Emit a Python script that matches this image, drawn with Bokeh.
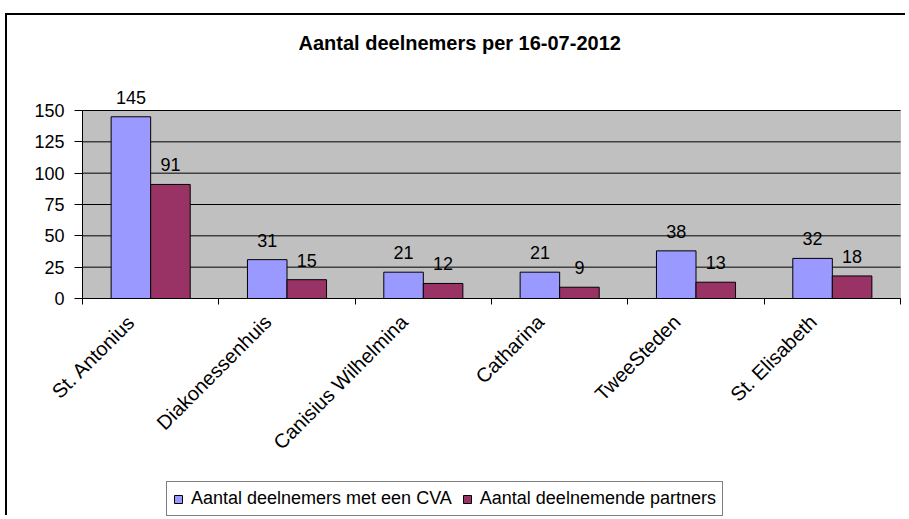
import math
from bokeh.plotting import figure
from bokeh.models import (ColumnDataSource, FixedTicker, LabelSet, Legend,
                          LegendItem, Range1d, Title, BoxAnnotation)
from bokeh.core.properties import value
from bokeh.embed import file_html
from bokeh.resources import INLINE

# ---- data ----
title_text = "Aantal deelnemers per 16-07-2012"
categories = ["St. Antonius", "Diakonessenhuis", "Canisius Wilhelmina",
              "Catharina", "TweeSteden", "St. Elisabeth"]
series_names = ["Aantal deelnemers met een CVA", "Aantal deelnemende partners"]
cva = [145, 31, 21, 21, 38, 32]
partners = [91, 15, 12, 9, 13, 18]
y_ticks = [0, 25, 50, 75, 100, 125, 150]

# ---- layout / style ----
FONT = "Liberation Sans"
BLUE = "#9999FF"
RED = "#993366"
GREY = "#C0C0C0"
n = len(categories)
bw = 0.29
label_shift = 0.140625

W, H = 900, 502
PAD_L, PAD_R, BORDER_T = 75, 7, 67   # room left/right of the grey area, room for title
AXIS_PX = 216          # pixels from frame top to the zero line
PLOT_PX = 188          # pixels covered by the value axis (0 .. top tick)
px_per_unit = PLOT_PX / (y_ticks[-1] - y_ticks[0])
y_max = y_ticks[-1] + (AXIS_PX - PLOT_PX) / px_per_unit
y_min = y_ticks[0] - (H - BORDER_T - AXIS_PX) / px_per_unit
px_per_cat = (W - PAD_L - PAD_R) / n
x_min = -PAD_L / px_per_cat
x_max = n + PAD_R / px_per_cat

centers = [i + 0.5 for i in range(n)]
src = ColumnDataSource(dict(
    x1=[c - bw / 2 for c in centers],
    x2=[c + bw / 2 for c in centers],
    cva=cva, partners=partners,
    cva_lbl=[str(v) for v in cva],
    partners_lbl=[str(v) for v in partners],
))
grid_src = ColumnDataSource(dict(
    x0=[0] * len(y_ticks), x1=[n] * len(y_ticks), y=y_ticks))

p = figure(width=W, height=H,
           x_range=Range1d(x_min, x_max), y_range=Range1d(y_min, y_max),
           output_backend="svg", toolbar_location=None,
           min_border_left=0, min_border_right=0,
           min_border_top=BORDER_T, min_border_bottom=0,
           background_fill_color="white",
           border_fill_color="white",
           outline_line_color=None,
           styles={"margin-top": "13px", "margin-left": "5px",
                   "border-top": "2px solid #000",
                   "border-left": "2px solid #000"})
p.title.text = ""
p.grid.visible = False

# grey plot area between the first and last value tick
p.add_layout(BoxAnnotation(left=0, right=n, bottom=y_ticks[0], top=y_ticks[-1],
                           fill_color=GREY, fill_alpha=1,
                           line_color="#808080", line_width=1, level="image"))
# horizontal grid lines across the plot area only
p.segment(x0="x0", x1="x1", y0="y", y1="y", source=grid_src,
          line_color="black", line_width=1)

# title with a spacer between it and the plot
p.add_layout(Title(text=" ", text_font_size="10px", standoff=14), "above")
p.add_layout(Title(text=title_text, align="left", offset=291,
                   text_font=FONT, text_font_size="20px",
                   text_font_style="bold", text_color="black",
                   standoff=4), "above")

r1 = p.vbar(x="x1", top="cva", width=bw, source=src,
            fill_color=BLUE, line_color="black", line_width=1)
r2 = p.vbar(x="x2", top="partners", width=bw, source=src,
            fill_color=RED, line_color="black", line_width=1)

for xcol, ycol, tcol in (("x1", "cva", "cva_lbl"), ("x2", "partners", "partners_lbl")):
    p.add_layout(LabelSet(x=xcol, y=ycol, text=tcol, source=src,
                          text_align="center", text_baseline="bottom",
                          y_offset=13, text_font=value(FONT),
                          text_font_size="18px", text_color="black"))

# y axis drawn at the left edge of the grey area
p.yaxis.fixed_location = 0
p.yaxis.ticker = FixedTicker(ticks=y_ticks)
p.yaxis.bounds = (y_ticks[0], y_ticks[-1])
p.yaxis.axis_line_color = "black"
p.yaxis.major_tick_line_color = "black"
p.yaxis.major_tick_out = 8
p.yaxis.major_tick_in = 0
p.yaxis.minor_tick_line_color = None
p.yaxis.major_label_text_font = FONT
p.yaxis.major_label_text_font_size = "18px"
p.yaxis.major_label_text_color = "black"
p.yaxis.major_label_standoff = 10

# x axis drawn on the zero line; boundary ticks as minor ticks
label_pos = [c - label_shift for c in centers]
p.xaxis.fixed_location = y_ticks[0]
p.xaxis.bounds = (0, n)
p.xaxis.ticker = FixedTicker(ticks=label_pos, minor_ticks=list(range(n + 1)))
p.xaxis.major_label_overrides = {pos: name for pos, name in zip(label_pos, categories)}
p.xaxis.axis_line_color = "black"
p.xaxis.major_tick_line_color = None
p.xaxis.major_tick_out = 0
p.xaxis.major_tick_in = 0
p.xaxis.minor_tick_line_color = "black"
p.xaxis.minor_tick_out = 6
p.xaxis.minor_tick_in = 0
p.xaxis.major_label_orientation = math.pi / 4
p.xaxis.major_label_text_font = FONT
p.xaxis.major_label_text_font_size = "20px"
p.xaxis.major_label_text_color = "black"
p.xaxis.major_label_standoff = 14

legend = Legend(items=[LegendItem(label=series_names[0], renderers=[r1]),
                       LegendItem(label=series_names[1], renderers=[r2])],
                orientation="horizontal", location=(PAD_L + 84, 1),
                border_line_color="black", border_line_width=1,
                background_fill_color="white", background_fill_alpha=1,
                padding=6, spacing=10, label_standoff=8, margin=0,
                glyph_width=10, glyph_height=10, label_height=20,
                label_text_font=FONT, label_text_font_size="18px",
                label_text_color="black")
p.add_layout(legend, "center")

open("out.html", "w").write(file_html(p, INLINE))
